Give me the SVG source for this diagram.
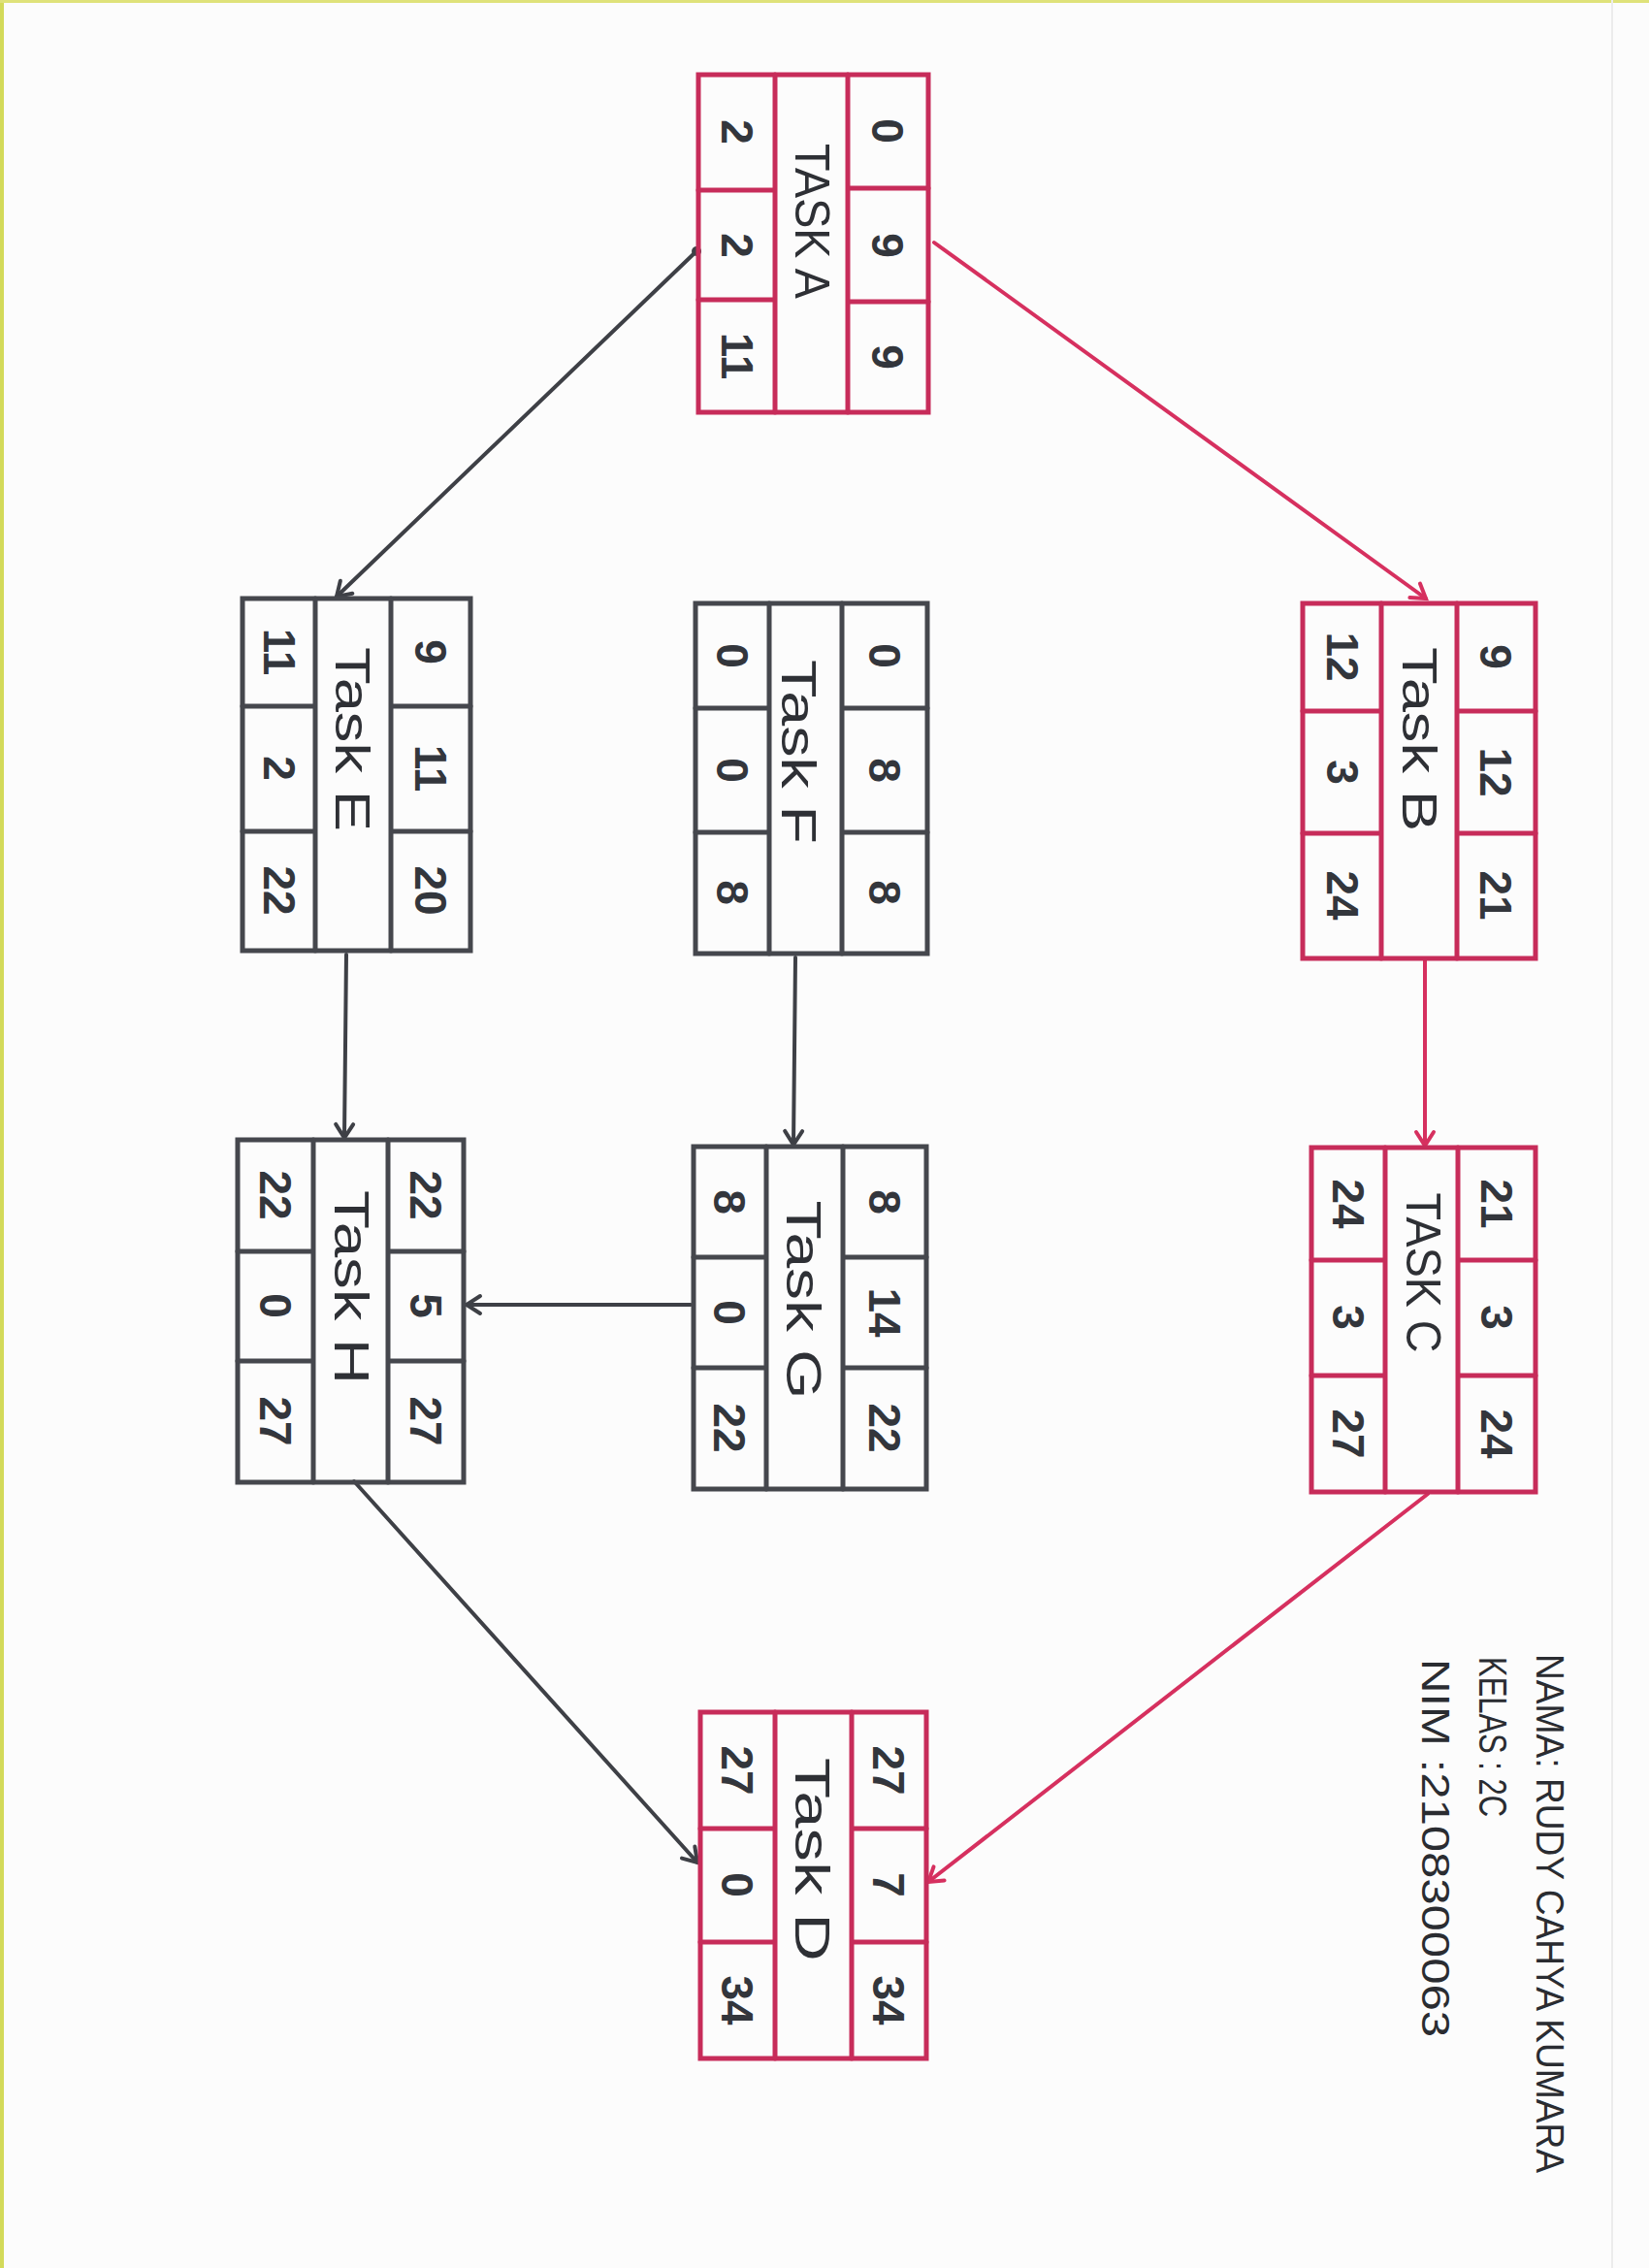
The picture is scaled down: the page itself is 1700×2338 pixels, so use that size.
<svg xmlns="http://www.w3.org/2000/svg" width="1700" height="2338" viewBox="0 0 1700 2338">
<style>
.bg{fill:#fcfcfc}
.red{stroke:#c72c5a;stroke-width:5;fill:none;stroke-linecap:round}
.dark{stroke:#45474d;stroke-width:5;fill:none;stroke-linecap:round}
.ered{stroke:#d6305f;stroke-width:4;fill:none;stroke-linecap:round}
.edark{stroke:#3e4046;stroke-width:4;fill:none;stroke-linecap:round}
.num{font-family:"Liberation Sans",Arial,sans-serif;font-size:46px;font-weight:bold;fill:#33363c;text-anchor:middle;dominant-baseline:central}
.lbl{font-family:"Liberation Sans",Arial,sans-serif;font-size:50px;fill:#2e3035;text-anchor:middle;dominant-baseline:central}
.note{font-family:"Liberation Sans",Arial,sans-serif;font-size:40px;fill:#2a2c31}
</style>
<defs>
<marker id="ahR" markerUnits="userSpaceOnUse" markerWidth="30" markerHeight="30" refX="18" refY="12" orient="auto">
<path d="M4,3 L18,12 L4,21" fill="none" stroke="#d6305f" stroke-width="4" stroke-linecap="round"/>
</marker>
<marker id="ahD" markerUnits="userSpaceOnUse" markerWidth="30" markerHeight="30" refX="18" refY="12" orient="auto">
<path d="M4,3 L18,12 L4,21" fill="none" stroke="#3e4046" stroke-width="4" stroke-linecap="round"/>
</marker>
</defs>
<rect class="bg" x="0" y="0" width="1700" height="2338"/>
<rect x="0" y="0" width="4" height="2338" fill="#d3da5a"/>
<rect x="0" y="0" width="1700" height="3" fill="#dfe27a"/>
<line x1="1662" y1="0" x2="1662" y2="2338" stroke="#ececec" stroke-width="2"/>

<g id="connectors">
<circle cx="718" cy="259" r="5" fill="#3e4046"/>
<line class="edark" x1="718" y1="259" x2="347" y2="615" marker-end="url(#ahD)"/>
<line class="ered" x1="963" y1="250" x2="1470" y2="617" marker-end="url(#ahR)"/>
<line class="edark" x1="357" y1="984" x2="355" y2="1173" marker-end="url(#ahD)"/>
<line class="edark" x1="820" y1="987" x2="818" y2="1180" marker-end="url(#ahD)"/>
<line class="ered" x1="1469" y1="990" x2="1469" y2="1181" marker-end="url(#ahR)"/>
<line class="edark" x1="712" y1="1345" x2="481" y2="1345" marker-end="url(#ahD)"/>
<line class="edark" x1="365" y1="1527" x2="719" y2="1920" marker-end="url(#ahD)"/>
<line class="ered" x1="1472" y1="1540" x2="957" y2="1940" marker-end="url(#ahR)"/>
</g>

<g id="taskA">
<rect class="red" x="720" y="77" width="237" height="348"/>
<path class="red" d="M799,77V425M874,77V425M720,196H799M720,309H799M874,194H957M874,311H957"/>
<text class="lbl" transform="translate(837,228) rotate(90)" textLength="160" lengthAdjust="spacingAndGlyphs">TASK A</text>
<text class="num" transform="translate(760,136) rotate(90)">2</text>
<text class="num" transform="translate(760,253) rotate(90)">2</text>
<text class="num" transform="translate(760,367) rotate(90)">11</text>
<text class="num" transform="translate(915,135) rotate(90)">0</text>
<text class="num" transform="translate(915,253) rotate(90)">9</text>
<text class="num" transform="translate(915,368) rotate(90)">9</text>
</g>

<g id="taskE">
<rect class="dark" x="250" y="617" width="235" height="363"/>
<path class="dark" d="M325,617V980M403,617V980M250,728H325M250,857H325M403,728H485M403,857H485"/>
<text class="lbl" transform="translate(363,762) rotate(90)" textLength="190" lengthAdjust="spacingAndGlyphs">Task E</text>
<text class="num" transform="translate(288,672) rotate(90)">11</text>
<text class="num" transform="translate(288,792) rotate(90)">2</text>
<text class="num" transform="translate(288,918) rotate(90)">22</text>
<text class="num" transform="translate(444,672) rotate(90)">9</text>
<text class="num" transform="translate(444,792) rotate(90)">11</text>
<text class="num" transform="translate(444,918) rotate(90)">20</text>
</g>

<g id="taskF">
<rect class="dark" x="717" y="622" width="239" height="361"/>
<path class="dark" d="M793,622V983M868,622V983M717,730H793M717,858H793M868,730H956M868,858H956"/>
<text class="lbl" transform="translate(823,775) rotate(90)" textLength="190" lengthAdjust="spacingAndGlyphs">Task F</text>
<text class="num" transform="translate(755,676) rotate(90)">0</text>
<text class="num" transform="translate(755,794) rotate(90)">0</text>
<text class="num" transform="translate(755,920) rotate(90)">8</text>
<text class="num" transform="translate(912,676) rotate(90)">0</text>
<text class="num" transform="translate(912,794) rotate(90)">8</text>
<text class="num" transform="translate(912,920) rotate(90)">8</text>
</g>

<g id="taskB">
<rect class="red" x="1343" y="622" width="240" height="366"/>
<path class="red" d="M1424,622V988M1502,622V988M1343,733H1424M1343,859H1424M1502,733H1583M1502,859H1583"/>
<text class="lbl" transform="translate(1463,762) rotate(90)" textLength="190" lengthAdjust="spacingAndGlyphs">Task B</text>
<text class="num" transform="translate(1384,677) rotate(90)">12</text>
<text class="num" transform="translate(1384,796) rotate(90)">3</text>
<text class="num" transform="translate(1384,923) rotate(90)">24</text>
<text class="num" transform="translate(1542,677) rotate(90)">9</text>
<text class="num" transform="translate(1542,796) rotate(90)">12</text>
<text class="num" transform="translate(1542,923) rotate(90)">21</text>
</g>

<g id="taskH">
<rect class="dark" x="245" y="1175" width="233" height="353"/>
<path class="dark" d="M323,1175V1528M400,1175V1528M245,1290H323M245,1403H323M400,1290H478M400,1403H478"/>
<text class="lbl" transform="translate(362,1327) rotate(90)" textLength="200" lengthAdjust="spacingAndGlyphs">Task H</text>
<text class="num" transform="translate(284,1232) rotate(90)">22</text>
<text class="num" transform="translate(284,1346) rotate(90)">0</text>
<text class="num" transform="translate(284,1465) rotate(90)">27</text>
<text class="num" transform="translate(439,1232) rotate(90)">22</text>
<text class="num" transform="translate(439,1346) rotate(90)">5</text>
<text class="num" transform="translate(439,1465) rotate(90)">27</text>
</g>

<g id="taskG">
<rect class="dark" x="715" y="1182" width="240" height="353"/>
<path class="dark" d="M790,1182V1535M869,1182V1535M715,1296H790M715,1410H790M869,1296H955M869,1410H955"/>
<text class="lbl" transform="translate(828,1340) rotate(90)" textLength="205" lengthAdjust="spacingAndGlyphs">Task G</text>
<text class="num" transform="translate(752,1239) rotate(90)">8</text>
<text class="num" transform="translate(752,1353) rotate(90)">0</text>
<text class="num" transform="translate(752,1472) rotate(90)">22</text>
<text class="num" transform="translate(912,1239) rotate(90)">8</text>
<text class="num" transform="translate(912,1353) rotate(90)">14</text>
<text class="num" transform="translate(912,1472) rotate(90)">22</text>
</g>

<g id="taskC">
<rect class="red" x="1352" y="1183" width="231" height="355"/>
<path class="red" d="M1428,1183V1538M1503,1183V1538M1352,1299H1428M1352,1418H1428M1503,1299H1583M1503,1418H1583"/>
<text class="lbl" transform="translate(1467,1312) rotate(90)" textLength="165" lengthAdjust="spacingAndGlyphs">TASK C</text>
<text class="num" transform="translate(1390,1241) rotate(90)">24</text>
<text class="num" transform="translate(1390,1358) rotate(90)">3</text>
<text class="num" transform="translate(1390,1478) rotate(90)">27</text>
<text class="num" transform="translate(1543,1241) rotate(90)">21</text>
<text class="num" transform="translate(1543,1358) rotate(90)">3</text>
<text class="num" transform="translate(1543,1478) rotate(90)">24</text>
</g>

<g id="taskD">
<rect class="red" x="722" y="1765" width="233" height="357"/>
<path class="red" d="M799,1765V2122M878,1765V2122M722,1885H799M722,2002H799M878,1885H955M878,2002H955"/>
<text class="lbl" transform="translate(837,1917) rotate(90)" textLength="210" lengthAdjust="spacingAndGlyphs">Task D</text>
<text class="num" transform="translate(760,1825) rotate(90)">27</text>
<text class="num" transform="translate(760,1943) rotate(90)">0</text>
<text class="num" transform="translate(760,2062) rotate(90)">34</text>
<text class="num" transform="translate(916,1825) rotate(90)">27</text>
<text class="num" transform="translate(916,1943) rotate(90)">7</text>
<text class="num" transform="translate(916,2062) rotate(90)">34</text>
</g>

<g id="identity">
<text class="note" transform="translate(1584,1705) rotate(90)" textLength="535" lengthAdjust="spacingAndGlyphs">NAMA: RUDY CAHYA KUMARA</text>
<text class="note" transform="translate(1525,1708) rotate(90)" textLength="165" lengthAdjust="spacingAndGlyphs">KELAS : 2C</text>
<text class="note" transform="translate(1466,1710) rotate(90)" textLength="390" lengthAdjust="spacingAndGlyphs">NIM :2108300063</text>
</g>
</svg>
